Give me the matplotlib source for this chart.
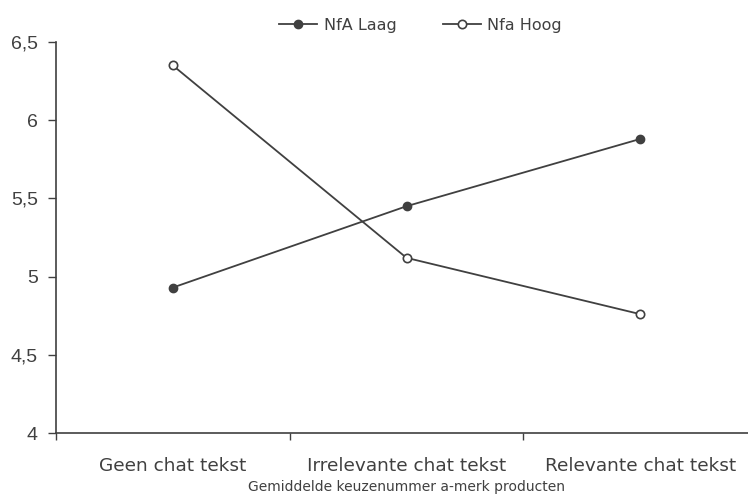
import matplotlib
matplotlib.use("Agg")
import matplotlib.pyplot as plt
from matplotlib.ticker import FixedLocator, FuncFormatter

categories = ["Geen chat tekst", "Irrelevante chat tekst", "Relevante chat tekst"]
nfa_laag = [4.93, 5.45, 5.88]
nfa_hoog = [6.35, 5.12, 4.76]
y_ticks = [4, 4.5, 5, 5.5, 6, 6.5]

dark = "#404040"
plt.rcParams["font.family"] = ["Liberation Sans", "DejaVu Sans"]

fig = plt.figure(figsize=(7.48, 4.98), dpi=100)
ax = fig.add_axes([56 / 748, 65 / 498, 701 / 748, 391 / 498])

x = list(range(len(categories)))
ax.plot(x, nfa_laag, color=dark, lw=1.3, marker="o", ms=6,
        mfc=dark, mec=dark, label="NfA Laag")
ax.plot(x, nfa_hoog, color=dark, lw=1.3, marker="o", ms=6,
        mfc="white", mec=dark, mew=1.2, label="Nfa Hoog")

ax.set_xlim(-0.5, len(categories) - 0.5)
ax.set_ylim(4, 6.5)

for side in ("top", "right"):
    ax.spines[side].set_visible(False)
for side in ("left", "bottom"):
    ax.spines[side].set_color(dark)
    ax.spines[side].set_linewidth(1.2)

ax.set_yticks(y_ticks)
ax.yaxis.set_major_formatter(FuncFormatter(lambda v, p: f"{v:g}".replace(".", ",")))
ax.tick_params(axis="y", direction="out", length=6, width=1, color=dark,
               labelsize=14, labelcolor=dark, pad=7)

ax.set_xticks(x)
ax.set_xticklabels(categories, fontsize=13.3, color=dark, fontfamily="DejaVu Sans")
ax.tick_params(axis="x", which="major", length=0, pad=17)
ax.xaxis.set_minor_locator(FixedLocator([i - 0.5 for i in range(len(categories) + 1)]))
ax.tick_params(axis="x", which="minor", direction="out", length=5, width=1, color=dark)

ax.set_xlabel("Gemiddelde keuzenummer a-merk producten", fontsize=10,
              color=dark, labelpad=4, fontfamily="DejaVu Sans")

leg = fig.legend(loc="upper center", bbox_to_anchor=(0.562, 0.993), ncol=2,
                 frameon=False, handlelength=2.4, columnspacing=2.9,
                 handletextpad=0.4, prop={"family": "DejaVu Sans", "size": 11.5})
for t in leg.get_texts():
    t.set_color(dark)

fig.savefig("out.png", dpi=100)
